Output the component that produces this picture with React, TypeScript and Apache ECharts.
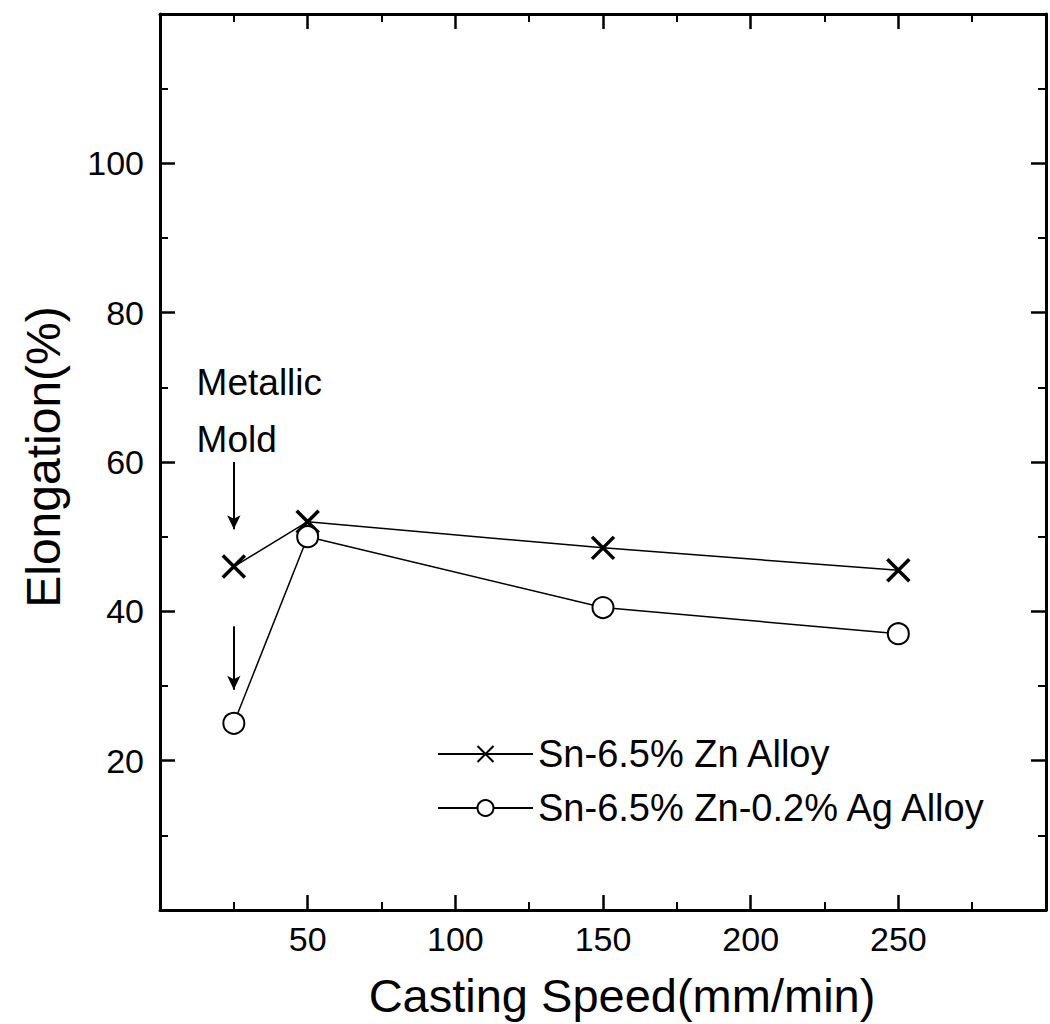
import React, { useEffect, useRef } from "react";
import * as echarts from "echarts";

// ---- data ----
const speeds: number[] = [25, 50, 150, 250];
const znAlloy: number[] = [46, 52, 48.5, 45.5];
const agAlloy: number[] = [25, 50, 40.5, 37];
const seriesNames: string[] = ["Sn-6.5% Zn Alloy", "Sn-6.5% Zn-0.2% Ag Alloy"];

const xTitle = "Casting Speed(mm/min)";
const yTitle = "Elongation(%)";
const xHiddenLabels: number[] = [0, 300];
const yHiddenLabels: number[] = [0, 120];

// annotation text (data coords) and arrows (data coords)
const noteTexts: string[] = ["Metallic", "Mold"];
const noteX: number[] = [12.4, 12.4];
const noteY: number[] = [70.6, 63.0];
const arrowX: number[] = [25, 25];
const arrowFrom: number[] = [60, 38];
const arrowTo: number[] = [51, 29.5];

const SANS = '"Liberation Sans", Arial, Helvetica, sans-serif';

export default function App() {
  const ref = useRef<HTMLDivElement>(null);

  useEffect(() => {
    if (!ref.current) return;
    const chart = echarts.init(ref.current, null, { renderer: "svg" });

    const axisLine = { show: true, onZero: false, lineStyle: { color: "#000", width: 3 } };
    const axisTick = { show: true, inside: true, length: 15, lineStyle: { color: "#000", width: 2.5 } };
    const minorTick = { show: true, splitNumber: 2, length: 8, lineStyle: { color: "#000", width: 2 } };

    const xBase = {
      type: "value" as const,
      min: 0,
      max: 300,
      interval: 50,
      axisLine,
      axisTick,
      minorTick,
      splitLine: { show: false },
      minorSplitLine: { show: false },
    };
    const yBase = {
      type: "value" as const,
      min: 0,
      max: 120,
      interval: 20,
      axisLine,
      axisTick,
      minorTick,
      splitLine: { show: false },
      minorSplitLine: { show: false },
    };

    const xSymbol = "path://M0,0L20,20M20,0L0,20";

    chart.setOption({
      animation: false,
      backgroundColor: "#fff",
      grid: { left: 160, right: 4, top: 14, bottom: 113, containLabel: false },
      xAxis: [
        {
          ...xBase,
          position: "bottom",
          name: xTitle,
          nameLocation: "middle",
          nameGap: 62,
          nameTextStyle: { fontFamily: SANS, fontSize: 47, color: "#000", padding: [0, 0, 0, 38] },
          axisLabel: {
            show: true,
            margin: 12,
            fontFamily: SANS,
            fontSize: 34,
            color: "#000",
            formatter: (v: number) => (xHiddenLabels.includes(v) ? "" : String(v)),
          },
        },
        { ...xBase, position: "top", axisLabel: { show: false } },
      ],
      yAxis: [
        {
          ...yBase,
          position: "left",
          name: yTitle,
          nameLocation: "middle",
          nameGap: 93,
          nameRotate: 90,
          nameTextStyle: { fontFamily: SANS, fontSize: 48, color: "#000", padding: [0, 0, 0, 10] },
          axisLabel: {
            show: true,
            margin: 16,
            fontFamily: SANS,
            fontSize: 34,
            color: "#000",
            formatter: (v: number) => (yHiddenLabels.includes(v) ? "" : String(v)),
          },
        },
        { ...yBase, position: "right", axisLabel: { show: false } },
      ],
      legend: {
        show: true,
        data: seriesNames,
        orient: "vertical",
        left: 432,
        top: 730,
        itemWidth: 95,
        itemHeight: 20,
        itemGap: 16,
        textStyle: { fontFamily: SANS, fontSize: 38, color: "#000" },
      },
      series: [
        {
          name: seriesNames[0],
          type: "line",
          xAxisIndex: 0,
          yAxisIndex: 0,
          data: speeds.map((s, i) => [s, znAlloy[i]]),
          symbol: xSymbol,
          symbolSize: 22,
          lineStyle: { color: "#000", width: 1.5 },
          itemStyle: { color: "#000", borderColor: "#000", borderWidth: 3.5 },
          markLine: {
            silent: true,
            symbol: ["none", "arrow"],
            symbolSize: [10, 14],
            label: { show: false },
            lineStyle: { color: "#000", width: 2, type: "solid" },
            data: arrowX.map((x, i) => [
              { coord: [x, arrowFrom[i]] },
              { coord: [x, arrowTo[i]] },
            ]),
          },
        },
        {
          name: seriesNames[1],
          type: "line",
          xAxisIndex: 0,
          yAxisIndex: 0,
          data: speeds.map((s, i) => [s, agAlloy[i]]),
          symbol: "emptyCircle",
          symbolSize: 21,
          lineStyle: { color: "#000", width: 1.5 },
          itemStyle: { color: "#000", borderColor: "#000", borderWidth: 3 },
        },
      ],
    });

    // annotation texts placed through the axes' own scales
    chart.setOption({
      graphic: noteTexts.map((t, i) => {
        const [px, py] = chart.convertToPixel({ gridIndex: 0 }, [noteX[i], noteY[i]]) as number[];
        return {
          type: "text",
          x: px,
          y: py,
          silent: true,
          style: {
            text: t,
            fill: "#000",
            font: `37px ${SANS}`,
            textAlign: "left",
            textVerticalAlign: "middle",
          },
        };
      }),
    });

    return () => chart.dispose();
  }, []);

  return (
    <div
      ref={ref}
      style={{ position: "fixed", left: 0, top: 0, width: 1050, height: 1024, background: "#fff" }}
    />
  );
}
